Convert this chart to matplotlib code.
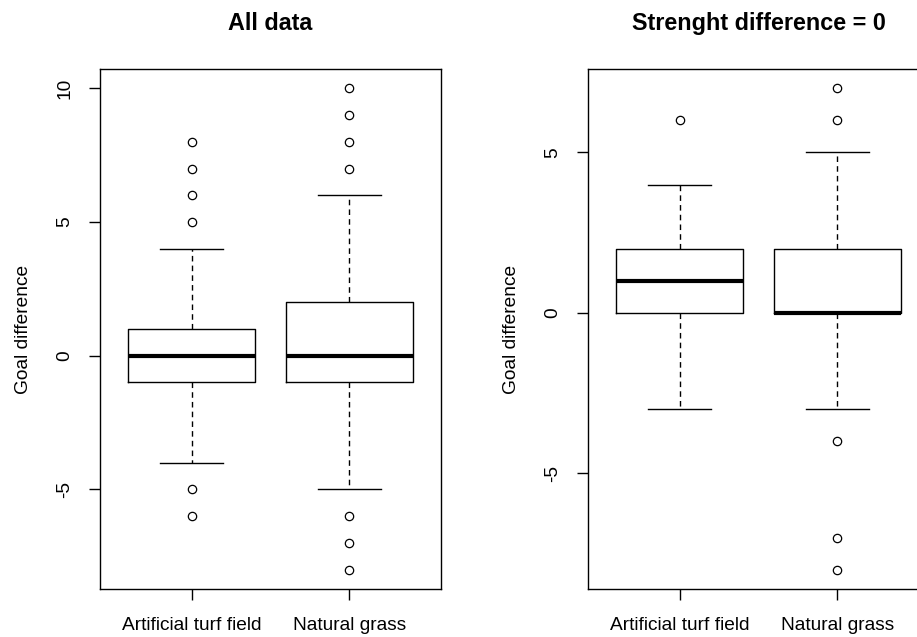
import matplotlib
matplotlib.use("Agg")
import matplotlib.pyplot as plt

plt.rcParams['font.family'] = ['Liberation Sans', 'DejaVu Sans']

groups = ['Artificial turf field', 'Natural grass']

# panel 1: all data
all_med = [0, 0]
all_q1 = [-1, -1]
all_q3 = [1, 2]
all_lo = [-4, -5]
all_hi = [4, 6]
all_fliers = [[5, 6, 7, 8, -5, -6], [7, 8, 9, 10, -6, -7, -8]]

# panel 2: strength difference = 0
eq_med = [1, 0]
eq_q1 = [0, 0]
eq_q3 = [2, 2]
eq_lo = [-3, -3]
eq_hi = [4, 5]
eq_fliers = [[6], [6, 7, -4, -7, -8]]

all_ticks = [-5, 0, 5, 10]
eq_ticks = [-5, 0, 5]


def make_stats(med, q1, q3, lo, hi, fl):
    return [dict(med=med[i], q1=q1[i], q3=q3[i], whislo=lo[i], whishi=hi[i],
                 fliers=fl[i], label=groups[i]) for i in range(len(groups))]


def draw(ax, stats, ticks):
    ax.bxp(stats, positions=[1, 2], widths=0.8, capwidths=0.4,
           boxprops=dict(color='black', linewidth=1.0),
           whiskerprops=dict(color='black', linewidth=1.0, linestyle=(0, (4, 3))),
           capprops=dict(color='black', linewidth=1.0),
           medianprops=dict(color='black', linewidth=3.0, solid_capstyle='butt'),
           flierprops=dict(marker='o', markerfacecolor='none', markeredgecolor='black',
                           markersize=6, markeredgewidth=0.9))
    vals = [v for s in stats for v in [s['whislo'], s['whishi']] + list(s['fliers'])]
    lo, hi = min(vals), max(vals)
    pad = (hi - lo) * 0.04
    ax.set_ylim(lo - pad, hi + pad)
    ax.set_xlim(0.42, 2.58)
    ax.set_yticks(ticks)
    ax.set_yticklabels([str(t) for t in ticks], rotation=90, va='center')
    ax.set_xticks([1, 2])
    ax.set_xticklabels(groups)
    ax.tick_params(direction='out', length=8, width=1.0, labelsize=13.8, pad=11)
    ax.tick_params(axis='x', pad=12)
    ax.set_ylabel('Goal difference', fontsize=13.8, labelpad=18)
    for s in ax.spines.values():
        s.set_linewidth(1.0)


fig = plt.figure(figsize=(9.17, 6.37), dpi=100)
ax1 = fig.add_axes([100 / 917, 48 / 637, 341 / 917, 520 / 637])
ax2 = fig.add_axes([588 / 917, 48 / 637, 341 / 917, 520 / 637])

draw(ax1, make_stats(all_med, all_q1, all_q3, all_lo, all_hi, all_fliers), all_ticks)
draw(ax2, make_stats(eq_med, eq_q1, eq_q3, eq_lo, eq_hi, eq_fliers), eq_ticks)
ax1.set_title('All data', fontsize=16.8, fontweight='bold', pad=28)
ax2.set_title('Strenght difference = 0', fontsize=16.8, fontweight='bold', pad=28,
              x=(758.5 - 588) / 341)

fig.savefig('out.png', dpi=100)
